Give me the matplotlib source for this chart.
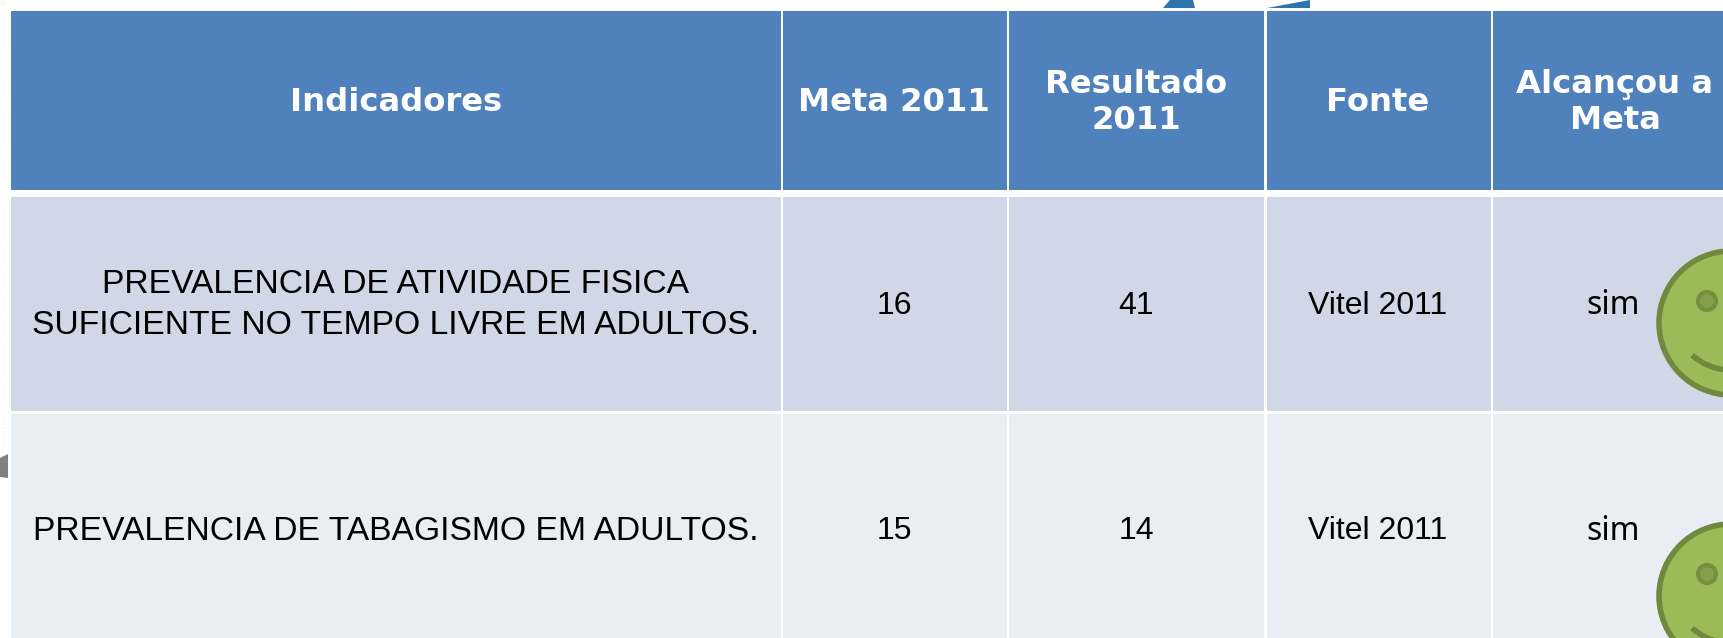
import matplotlib
matplotlib.use('Agg')
import matplotlib.pyplot as plt
from matplotlib.patches import Rectangle, Circle, Arc, Polygon

plt.rcParams['font.family'] = ['Liberation Sans', 'DejaVu Sans']

# table content
headers = ['Indicadores', 'Meta 2011', 'Resultado\n2011', 'Fonte', 'Alcançou a\nMeta']
indicadores = ['PREVALENCIA DE ATIVIDADE FISICA\nSUFICIENTE NO TEMPO LIVRE EM ADULTOS.',
               'PREVALENCIA DE TABAGISMO EM ADULTOS.']
meta = ['16', '15']
resultado = ['41', '14']
fonte = ['Vitel 2011', 'Vitel 2011']
alcancou = ['sim', 'sim']

# layout in pixels of the original image
W, H = 1723, 638
col_left = [10.5, 783, 1009, 1266.5, 1493]
col_right = [781, 1007, 1264, 1491, 1723]
col_center = [396, 894, 1136, 1378, 1615]
row_top = [10.5, 197, 413.5]
row_bottom = [190, 411, 638]
row_text_y = [304, 306, 531]
sim_x = 1613
smile_y = [323, 596]
smile_x = 1731
smile_r = 72

blue = '#4f81bd'
band1 = '#d0d8e8'
band2 = '#e9edf4'
green = '#9bbb59'
dark_green = '#71893f'

fig = plt.figure(figsize=(W / 100, H / 100), dpi=100)
ax = fig.add_axes([0, 0, 1, 1])
ax.set_xlim(0, W)
ax.set_ylim(H, 0)
ax.axis('off')

# bits of the slide behind the table
ax.add_patch(Polygon([(1163, 8), (1170, 0), (1193, 0), (1195, 8)], color='#2e75b0', lw=0))
ax.add_patch(Polygon([(1267, 8), (1310, 0), (1310, 8)], color='#2e75b0', lw=0))
ax.plot([3, 3], [0, 450], color='#eef2f2', lw=1, ls=':')
ax.plot([0, 350], [3, 3], color='#eef2f2', lw=1, ls=':')
ax.add_patch(Polygon([(0, 458), (8, 454), (8, 478), (0, 477)], color='#808080', lw=0))

fills = [blue, band1, band2]
for r in range(3):
    for c in range(5):
        ax.add_patch(Rectangle((col_left[c], row_top[r]), col_right[c] - col_left[c],
                               row_bottom[r] - row_top[r], color=fills[r], lw=0))

for c, h in enumerate(headers):
    ax.text(col_center[c], 102.5, h, color='white', fontsize=23.2, fontweight='bold',
            family=['DejaVu Sans'], ha='center', va='center', linespacing=1.2)

for r in range(2):
    y = row_text_y[r + 1]
    ax.text(col_center[0], y - 1 + r, indicadores[r], fontsize=24.2, ha='center', va='center', color='black', linespacing=1.42)
    ax.text(col_center[1], y, meta[r], fontsize=23, ha='center', va='center', color='black')
    ax.text(col_center[2], y, resultado[r], fontsize=23, ha='center', va='center', color='black')
    ax.text(col_center[3], y, fonte[r], fontsize=23, ha='center', va='center', color='black')
    ax.text(sim_x, y, alcancou[r], fontsize=23, ha='center', va='center', color='black',
            family=['Noto Sans', 'DejaVu Sans'])

    # smiley, runs off the right edge
    sy = smile_y[r]
    ax.add_patch(Circle((smile_x, sy), smile_r, fc=green, ec=dark_green, lw=4))
    ax.add_patch(Circle((smile_x - 24, sy - 22), 9, fc='#85a04c', ec='#77903f', lw=3))
    ax.add_patch(Arc((smile_x, sy - 11), 116, 116, theta1=48, theta2=132, ec=dark_green, lw=4))

fig.savefig('out.png', dpi=100)
